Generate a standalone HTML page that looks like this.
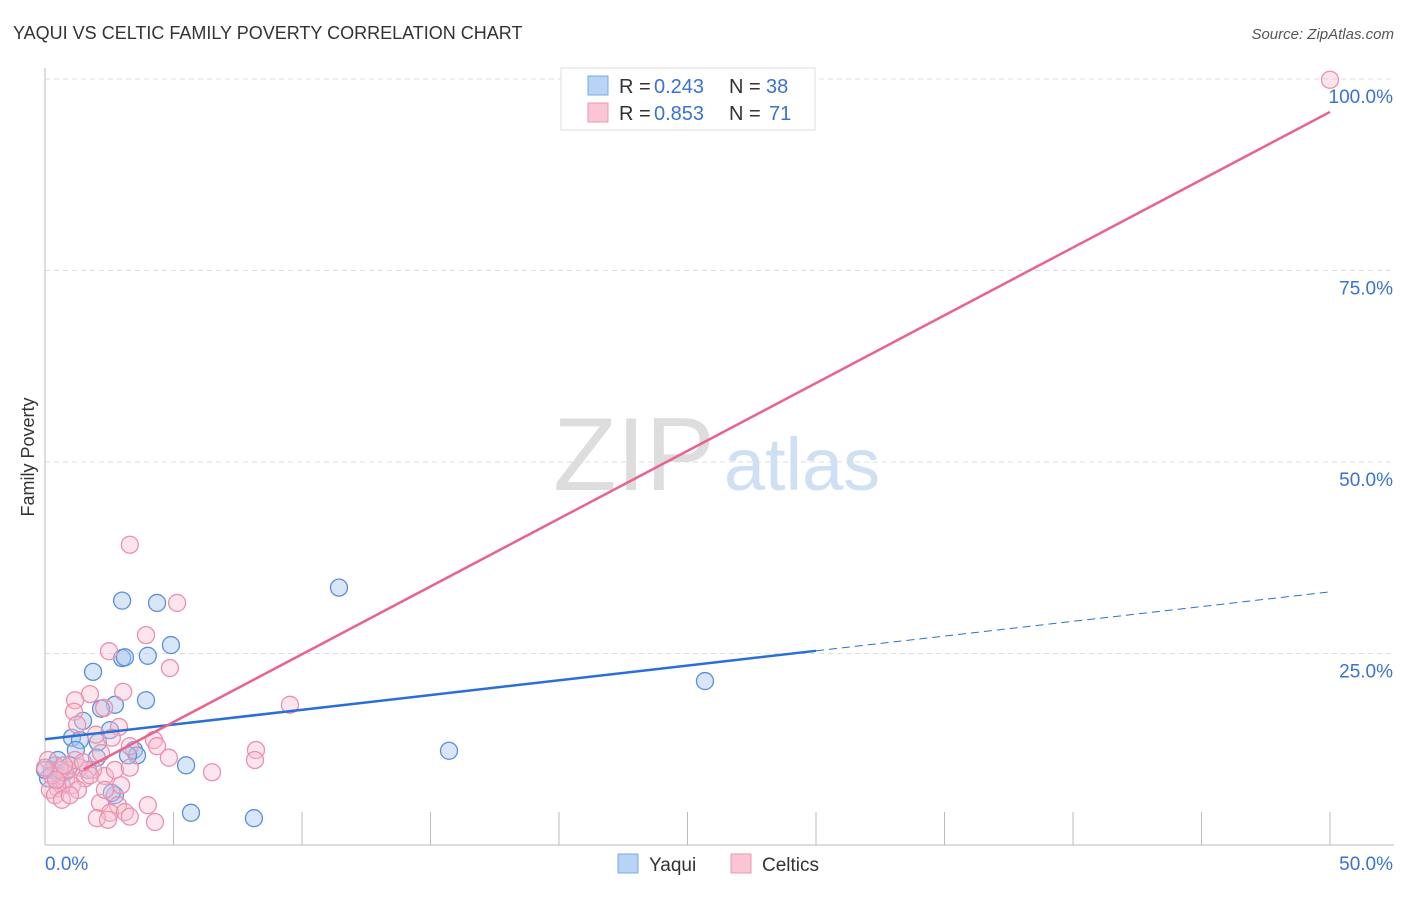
<!DOCTYPE html>
<html><head><meta charset="utf-8"><style>
body{margin:0;background:#fff;font-family:"Liberation Sans",sans-serif;}
svg text{font-family:"Liberation Sans",sans-serif;}
</style></head><body>
<svg id="chart" width="1406" height="892" xmlns="http://www.w3.org/2000/svg">
<text x="13" y="39" font-size="18" fill="#333">YAQUI VS CELTIC FAMILY POVERTY CORRELATION CHART</text>
<text x="1394" y="39" font-size="15" fill="#555" text-anchor="end" font-style="italic">Source: ZipAtlas.com</text>
<text transform="translate(34,457) rotate(-90)" font-size="18" fill="#333" text-anchor="middle">Family Poverty</text>
<g><text x="634" y="490" font-size="104" fill="#ddd" text-anchor="middle" font-family="Liberation Serif">ZIP</text><text x="802" y="490" font-size="74" fill="#cfe0f5" text-anchor="middle">atlas</text></g>
<g id="grid"></g><g id="axes"></g><g id="pts"></g><g id="lines"></g>
<g>
<rect x="561" y="68" width="254" height="62" fill="#fff" stroke="#ddd"/>
<rect x="588" y="76" width="20" height="19" fill="#b7d3f5" stroke="#7aa8e6"/>
<rect x="588" y="103" width="20" height="19" fill="#fac6d5" stroke="#ee96b0"/>
<text x="619" y="93" font-size="20" fill="#333">R =</text><text x="654" y="93" font-size="20" fill="#3a72d4">0.243</text>
<text x="729" y="93" font-size="20" fill="#333">N =</text><text x="766" y="93" font-size="20" fill="#3a72d4">38</text>
<text x="619" y="120" font-size="20" fill="#333">R =</text><text x="654" y="120" font-size="20" fill="#3a72d4">0.853</text>
<text x="729" y="120" font-size="20" fill="#333">N =</text><text x="769" y="120" font-size="20" fill="#3a72d4">71</text>
</g>
<g>
<rect x="618" y="854" width="20" height="19" fill="#b7d3f5" stroke="#7aa8e6"/>
<text x="649" y="871" font-size="19" fill="#333">Yaqui</text>
<rect x="731" y="854" width="20" height="19" fill="#fac6d5" stroke="#ee96b0"/>
<text x="762" y="871" font-size="19" fill="#333">Celtics</text>
</g>
</svg>
<script>
const yTicks=[25,50,75,100];
const yTickLabels=["25.0%","50.0%","75.0%","100.0%"];
const xTickLabels=["0.0%","50.0%"];
const yaquiX=[3.0,4.36,11.44,4.9,3.0,3.11,4.0,1.87,3.93,2.72,2.18,1.48,2.53,1.05,1.36,2.06,1.2,3.46,3.58,3.23,2.02,5.49,15.72,25.68,5.68,8.13,2.72,2.6,0.39,0.27,0.58,0.12,0.78,1.67,0.5,0.97,0,0.66];
const yaquiY=[31.9,31.6,33.6,26.1,24.4,24.5,24.7,22.6,18.9,18.3,17.8,16.2,15.0,14.0,13.7,13.4,12.4,12.4,11.7,11.7,11.4,10.4,12.3,21.4,4.2,3.5,6.5,6.8,10.4,9.8,9.1,8.7,9.5,9.8,11.1,10.4,9.8,7.8];
const celticX=[3.3,5.14,3.93,2.49,4.86,3.04,9.53,1.75,1.17,1.13,2.3,2.88,1.25,1.98,2.6,4.24,4.36,4.82,3.3,8.21,8.17,6.5,2.18,2.96,2.33,1.36,1.87,1.56,0.82,1.05,0.5,0.19,0.39,0.66,0.12,0.27,0.89,1.17,2.14,2.84,4.0,2.53,3.11,2.02,2.45,3.3,4.28,2.33,1.75,2.72,3.3,0.58,0,50,0.43,0.74,1.28,1.48,0.97];
const celticY=[39.2,31.6,27.4,25.3,23.1,20.0,18.3,19.7,18.9,17.4,17.9,15.4,15.7,14.4,14.0,13.7,12.9,11.4,12.9,12.4,11.1,9.5,12.0,7.8,9.0,10.1,9.8,8.7,8.5,7.8,7.4,7.2,6.5,5.9,11.1,9.1,9.8,11.1,5.5,5.2,5.2,4.2,4.3,3.5,3.3,3.7,3.0,7.2,9.1,9.8,10.1,9.8,10.1,99.9,8.5,10.4,7.2,10.8,6.5];
const yaquiTrend=[13.8,0.385]; // intercept, slope
const celticTrend=[7.2,1.77];
const X0=45,X1=1330,Y0=845,Y100=79;
const sx=v=>X0+(X1-X0)*v/50, sy=v=>Y0-(Y0-Y100)*v/100;
const NS="http://www.w3.org/2000/svg";
function mk(p,t,a){const e=document.createElementNS(NS,t);for(const k in a)e.setAttribute(k,a[k]);document.getElementById(p).appendChild(e);return e;}
yTicks.forEach((t,i)=>{
 const l=mk('grid','line',{x1:X0,x2:1394,y1:sy(t),y2:sy(t),stroke:'#ddd','stroke-dasharray':'5,4'});
 
 
 const tx=mk('grid','text',{x:1393,y:sy(t)+24,'font-size':19,fill:'#3a72d4','text-anchor':'end'});
 tx.textContent=yTickLabels[i];
 
 
});
const ax=mk('axes','line',{x1:X0,x2:X0,y1:68,y2:Y0,stroke:'#bbb'});


const bx=mk('axes','line',{x1:X0,x2:1394,y1:Y0,y2:Y0,stroke:'#bbb'});


for(let i=0;i<=10;i++){const t=mk('axes','line',{x1:sx(i*5),x2:sx(i*5),y1:812,y2:Y0,stroke:'#bbb'});
 
 }
[[0,'start',45],[50,'end',1393]].forEach((d,i)=>{const t=mk('axes','text',{x:d[2],y:870,'font-size':19,fill:'#3a72d4','text-anchor':d[1]});t.textContent=xTickLabels[i];
 
 });
yaquiX.forEach((v,i)=>{const c=mk('pts','circle',{cx:sx(v),cy:sy(yaquiY[i]),r:8.5,fill:'rgba(170,200,240,0.45)',stroke:'#5b8fdc','stroke-width':1.3});
 
 });
celticX.forEach((v,i)=>{const c=mk('pts','circle',{cx:sx(v),cy:sy(celticY[i]),r:8.5,fill:'rgba(248,190,208,0.4)',stroke:'#ec8fab','stroke-width':1.3});
 
 });
const yl=mk('lines','line',{x1:sx(0),y1:sy(yaquiTrend[0]),x2:sx(30),y2:sy(yaquiTrend[0]+30*yaquiTrend[1]),stroke:'#2a6fd6','stroke-width':2.5});


const yd=mk('lines','line',{x1:sx(30),y1:sy(yaquiTrend[0]+30*yaquiTrend[1]),x2:sx(50),y2:sy(yaquiTrend[0]+50*yaquiTrend[1]),stroke:'#2a6fd6','stroke-width':1,'stroke-dasharray':'8,5'});


const cl=mk('lines','line',{x1:sx(1.5),y1:sy(celticTrend[0]+1.5*celticTrend[1]),x2:sx(50),y2:sy(celticTrend[0]+50*celticTrend[1]),stroke:'#e8648f','stroke-width':2.5});


</script>
</body></html>
